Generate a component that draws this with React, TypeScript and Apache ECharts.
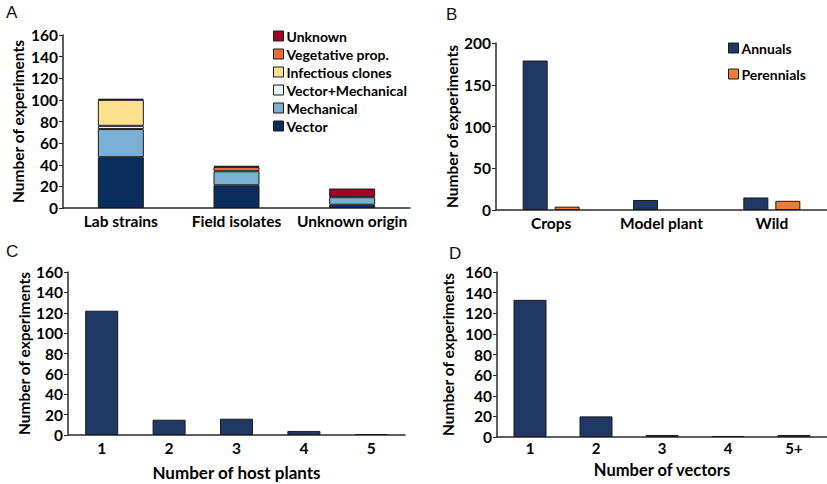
import React, { useEffect, useRef } from "react";
import * as echarts from "echarts";

const catA = ["Lab strains", "Field isolates", "Unknown origin"];
const seriesNamesA = ["Vector", "Mechanical", "Vector+Mechanical", "Infectious clones", "Vegetative prop.", "Unknown"];
const vectorA = [47, 21, 3];
const mechanicalA = [26, 13, 7];
const vecMechA = [3, 0, 0];
const infectiousA = [24, 0, 0];
const vegetativeA = [0, 4, 0];
const unknownA = [1, 1, 8];

const catB = ["Crops", "Model plant", "Wild"];
const annualsB = [179, 12, 15];
const perennialsB: (number | null)[] = [4, null, 11];

const catC = ["1", "2", "3", "4", "5"];
const valuesC = [122, 15, 16, 4, 1];

const catD = ["1", "2", "3", "4", "5+"];
const valuesD = [133, 20, 2, 1, 2];

const colorsA = ["#0b2d5e", "#7aafd6", "#e4f2f9", "#fee08f", "#f26a3a", "#a50026"];
const navy = "#1f3864";
const orange = "#ed7d31";
const FONT = "Lato";

export default function App() {
  const ref = useRef<HTMLDivElement>(null);
  useEffect(() => {
    if (!ref.current) return;
    const chart = echarts.init(ref.current, null, { renderer: "svg" });
    const axisLine = { show: true, lineStyle: { color: "#2a2a2a", width: 1.5 } };
    const labelStyle = { color: "#000", fontFamily: FONT, fontWeight: "bold" as const, fontSize: 15.5 };
    const nameStyle = { color: "#000", fontFamily: FONT, fontWeight: "bold" as const, fontSize: 15.5 };
    const mkX = (
      gi: number,
      data: string[],
      name?: string,
      nameGap?: number,
      labelSize = 15.5,
      labelMargin = 6,
      nameSize = 17
    ) => ({
      type: "category",
      gridIndex: gi,
      data,
      axisLine,
      axisTick: { show: false },
      axisLabel: { ...labelStyle, fontSize: labelSize, margin: labelMargin, interval: 0, lineHeight: 14 },
      name,
      nameLocation: "middle",
      nameGap,
      nameTextStyle: { ...nameStyle, fontSize: nameSize, lineHeight: 16 },
    });
    const mkY = (gi: number, max: number, interval: number, nameGap: number) => ({
      type: "value",
      gridIndex: gi,
      min: 0,
      max,
      interval,
      axisLine,
      axisTick: { show: true, length: 4, lineStyle: { color: "#2a2a2a" } },
      splitLine: { show: false },
      axisLabel: { ...labelStyle, margin: 5 },
      name: "Number of experiments",
      nameLocation: "middle",
      nameGap,
      nameTextStyle: nameStyle,
    });
    const border = { borderColor: "#1a1a1a", borderWidth: 1 };
    const dataA = [vectorA, mechanicalA, vecMechA, infectiousA, vegetativeA, unknownA];
    const seriesA = seriesNamesA.map((n, i) => ({
      type: "bar",
      name: n,
      xAxisIndex: 0,
      yAxisIndex: 0,
      stack: "A",
      barWidth: 46,
      data: dataA[i].map((v) => (v === 0 ? null : v)),
      itemStyle: { color: colorsA[i], ...border },
    }));
    const letter = (t: string, x: number, y: number) => ({
      type: "text",
      left: x,
      top: y,
      style: { text: t, fontFamily: "Liberation Sans", fontSize: 17, fill: "#111" },
    });
    const legendText = { ...labelStyle, fontSize: 14, padding: [0, 0, 0, -2] };
    chart.setOption({
      animation: false,
      grid: [
        { left: 63, top: 35, width: 347, height: 173 },
        { left: 496, top: 43, width: 331, height: 167 },
        { left: 68, top: 272, width: 337, height: 163 },
        { left: 497, top: 272, width: 330, height: 165 },
      ],
      xAxis: [
        mkX(0, catA),
        mkX(1, catB),
        mkX(2, catC, "Number of host plants", 29),
        mkX(3, catD, "Number of vectors", 25, 15, 4, 16.5),
      ],
      yAxis: [mkY(0, 160, 20, 37), mkY(1, 200, 50, 30), mkY(2, 160, 20, 34), mkY(3, 160, 20, 41)],
      legend: [
        {
          data: [...seriesNamesA].reverse(),
          orient: "vertical",
          left: 273,
          top: 29,
          padding: 0,
          itemWidth: 10,
          itemHeight: 10,
          itemGap: 4,
          icon: "rect",
          itemStyle: { borderColor: "#1a1a1a", borderWidth: 1 },
          textStyle: legendText,
        },
        {
          data: ["Annuals", "Perennials"],
          orient: "vertical",
          left: 728,
          top: 41,
          padding: 0,
          itemWidth: 10,
          itemHeight: 10,
          itemGap: 12,
          icon: "rect",
          itemStyle: { borderColor: "#1a1a1a", borderWidth: 1 },
          textStyle: legendText,
        },
      ],
      graphic: [letter("A", 6, 4), letter("B", 446, 6), letter("C", 6, 243), letter("D", 449, 245)],
      series: [
        ...seriesA,
        {
          type: "bar",
          name: "Annuals",
          xAxisIndex: 1,
          yAxisIndex: 1,
          barWidth: 25,
          barGap: "28%",
          data: annualsB,
          itemStyle: { color: navy, ...border },
        },
        {
          type: "bar",
          name: "Perennials",
          xAxisIndex: 1,
          yAxisIndex: 1,
          barWidth: 25,
          data: perennialsB,
          itemStyle: { color: orange, ...border },
        },
        {
          type: "bar",
          name: "C",
          xAxisIndex: 2,
          yAxisIndex: 2,
          barWidth: 33,
          data: valuesC,
          itemStyle: { color: navy, ...border },
        },
        {
          type: "bar",
          name: "D",
          xAxisIndex: 3,
          yAxisIndex: 3,
          barWidth: 33,
          data: valuesD,
          itemStyle: { color: navy, ...border },
        },
      ],
    });
    return () => chart.dispose();
  }, []);
  return <div ref={ref} style={{ position: "absolute", left: 0, top: 0, width: 827, height: 484, background: "#fff" }} />;
}
